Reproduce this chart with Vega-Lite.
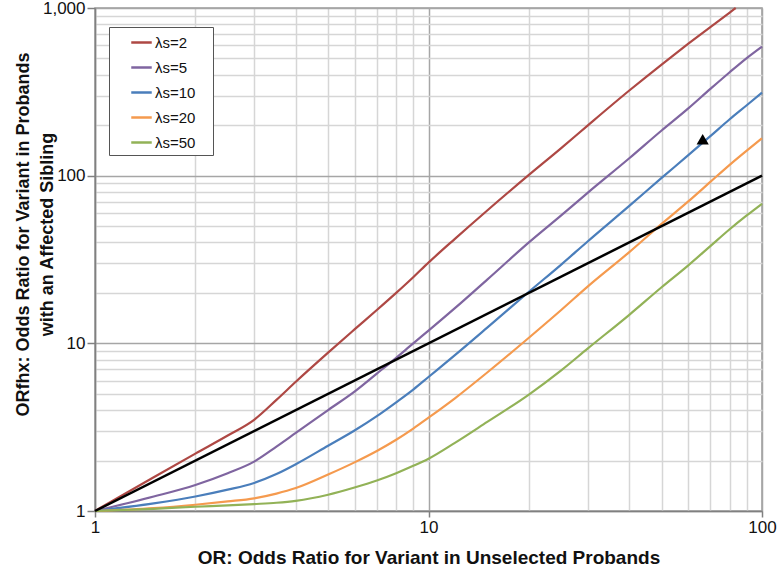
{
  "$schema": "https://vega.github.io/schema/vega-lite/v6.json",
  "autosize": "none",
  "width": 667,
  "height": 503,
  "padding": {"left": 95, "top": 8, "right": 17, "bottom": 55},
  "background": "white",
  "datasets": {
    "curves": [
      {"x": 1, "y": 1, "s": "λs=2"}, {"x": 1.5, "y": 1.59, "s": "λs=2"}, {"x": 2, "y": 2.2, "s": "λs=2"}, {"x": 2.5, "y": 2.82, "s": "λs=2"}, {"x": 3, "y": 3.5, "s": "λs=2"}, {"x": 3.5, "y": 4.6, "s": "λs=2"}, {"x": 4, "y": 5.9, "s": "λs=2"}, {"x": 5, "y": 8.8, "s": "λs=2"}, {"x": 6, "y": 12.1, "s": "λs=2"}, {"x": 7, "y": 15.8, "s": "λs=2"}, {"x": 8, "y": 20, "s": "λs=2"}, {"x": 9, "y": 24.8, "s": "λs=2"}, {"x": 10, "y": 30.3, "s": "λs=2"}, {"x": 12, "y": 42, "s": "λs=2"}, {"x": 15, "y": 62, "s": "λs=2"}, {"x": 20, "y": 101, "s": "λs=2"}, {"x": 25, "y": 146, "s": "λs=2"}, {"x": 30, "y": 199, "s": "λs=2"}, {"x": 40, "y": 322, "s": "λs=2"}, {"x": 50, "y": 460, "s": "λs=2"}, {"x": 60, "y": 610, "s": "λs=2"}, {"x": 70, "y": 770, "s": "λs=2"}, {"x": 80, "y": 940, "s": "λs=2"}, {"x": 83.4, "y": 1000, "s": "λs=2"},
      {"x": 1, "y": 1, "s": "λs=5"}, {"x": 1.5, "y": 1.22, "s": "λs=5"}, {"x": 2, "y": 1.43, "s": "λs=5"}, {"x": 2.5, "y": 1.68, "s": "λs=5"}, {"x": 3, "y": 1.97, "s": "λs=5"}, {"x": 3.5, "y": 2.42, "s": "λs=5"}, {"x": 4, "y": 2.92, "s": "λs=5"}, {"x": 5, "y": 4.0, "s": "λs=5"}, {"x": 6, "y": 5.15, "s": "λs=5"}, {"x": 7, "y": 6.6, "s": "λs=5"}, {"x": 8, "y": 8.2, "s": "λs=5"}, {"x": 9, "y": 10, "s": "λs=5"}, {"x": 10, "y": 11.9, "s": "λs=5"}, {"x": 12, "y": 16.2, "s": "λs=5"}, {"x": 15, "y": 24, "s": "λs=5"}, {"x": 20, "y": 40, "s": "λs=5"}, {"x": 25, "y": 58, "s": "λs=5"}, {"x": 30, "y": 79, "s": "λs=5"}, {"x": 40, "y": 127, "s": "λs=5"}, {"x": 50, "y": 186, "s": "λs=5"}, {"x": 60, "y": 251, "s": "λs=5"}, {"x": 70, "y": 329, "s": "λs=5"}, {"x": 80, "y": 414, "s": "λs=5"}, {"x": 90, "y": 503, "s": "λs=5"}, {"x": 100, "y": 589, "s": "λs=5"},
      {"x": 1, "y": 1, "s": "λs=10"}, {"x": 1.5, "y": 1.11, "s": "λs=10"}, {"x": 2, "y": 1.22, "s": "λs=10"}, {"x": 2.5, "y": 1.34, "s": "λs=10"}, {"x": 3, "y": 1.47, "s": "λs=10"}, {"x": 3.5, "y": 1.66, "s": "λs=10"}, {"x": 4, "y": 1.9, "s": "λs=10"}, {"x": 5, "y": 2.45, "s": "λs=10"}, {"x": 6, "y": 3.02, "s": "λs=10"}, {"x": 7, "y": 3.68, "s": "λs=10"}, {"x": 8, "y": 4.45, "s": "λs=10"}, {"x": 9, "y": 5.3, "s": "λs=10"}, {"x": 10, "y": 6.3, "s": "λs=10"}, {"x": 12, "y": 8.5, "s": "λs=10"}, {"x": 15, "y": 12.4, "s": "λs=10"}, {"x": 20, "y": 20.3, "s": "λs=10"}, {"x": 25, "y": 29.5, "s": "λs=10"}, {"x": 30, "y": 40.5, "s": "λs=10"}, {"x": 40, "y": 66, "s": "λs=10"}, {"x": 50, "y": 97, "s": "λs=10"}, {"x": 60, "y": 132, "s": "λs=10"}, {"x": 70, "y": 172, "s": "λs=10"}, {"x": 80, "y": 217, "s": "λs=10"}, {"x": 90, "y": 263, "s": "λs=10"}, {"x": 100, "y": 313, "s": "λs=10"},
      {"x": 1, "y": 1, "s": "λs=20"}, {"x": 1.5, "y": 1.04, "s": "λs=20"}, {"x": 2, "y": 1.09, "s": "λs=20"}, {"x": 2.5, "y": 1.14, "s": "λs=20"}, {"x": 3, "y": 1.19, "s": "λs=20"}, {"x": 3.5, "y": 1.27, "s": "λs=20"}, {"x": 4, "y": 1.37, "s": "λs=20"}, {"x": 5, "y": 1.65, "s": "λs=20"}, {"x": 6, "y": 1.95, "s": "λs=20"}, {"x": 7, "y": 2.28, "s": "λs=20"}, {"x": 8, "y": 2.66, "s": "λs=20"}, {"x": 9, "y": 3.1, "s": "λs=20"}, {"x": 10, "y": 3.6, "s": "λs=20"}, {"x": 12, "y": 4.7, "s": "λs=20"}, {"x": 15, "y": 6.7, "s": "λs=20"}, {"x": 20, "y": 10.8, "s": "λs=20"}, {"x": 25, "y": 15.8, "s": "λs=20"}, {"x": 30, "y": 21.8, "s": "λs=20"}, {"x": 40, "y": 35, "s": "λs=20"}, {"x": 50, "y": 51.6, "s": "λs=20"}, {"x": 60, "y": 70, "s": "λs=20"}, {"x": 70, "y": 91.8, "s": "λs=20"}, {"x": 80, "y": 116, "s": "λs=20"}, {"x": 90, "y": 141, "s": "λs=20"}, {"x": 100, "y": 167, "s": "λs=20"},
      {"x": 1, "y": 1, "s": "λs=50"}, {"x": 1.5, "y": 1.03, "s": "λs=50"}, {"x": 2, "y": 1.06, "s": "λs=50"}, {"x": 2.5, "y": 1.08, "s": "λs=50"}, {"x": 3, "y": 1.1, "s": "λs=50"}, {"x": 3.5, "y": 1.12, "s": "λs=50"}, {"x": 4, "y": 1.15, "s": "λs=50"}, {"x": 5, "y": 1.25, "s": "λs=50"}, {"x": 6, "y": 1.38, "s": "λs=50"}, {"x": 7, "y": 1.52, "s": "λs=50"}, {"x": 8, "y": 1.68, "s": "λs=50"}, {"x": 9, "y": 1.86, "s": "λs=50"}, {"x": 10, "y": 2.05, "s": "λs=50"}, {"x": 12, "y": 2.55, "s": "λs=50"}, {"x": 15, "y": 3.4, "s": "λs=50"}, {"x": 20, "y": 4.95, "s": "λs=50"}, {"x": 25, "y": 6.9, "s": "λs=50"}, {"x": 30, "y": 9.3, "s": "λs=50"}, {"x": 40, "y": 14.8, "s": "λs=50"}, {"x": 50, "y": 21.6, "s": "λs=50"}, {"x": 60, "y": 29.1, "s": "λs=50"}, {"x": 70, "y": 38, "s": "λs=50"}, {"x": 80, "y": 47.9, "s": "λs=50"}, {"x": 90, "y": 57.9, "s": "λs=50"}, {"x": 100, "y": 68, "s": "λs=50"}
    ],
    "diag": [{"x": 1, "y": 1}, {"x": 100, "y": 100}],
    "marker": [{"x": 66.4, "y": 165}]
  },
  "encoding": {
    "x": {
      "field": "x", "type": "quantitative",
      "scale": {"type": "log", "domain": [1, 100], "nice": false},
      "axis": {
        "title": "OR: Odds Ratio for Variant in Unselected Probands",
        "values": [1, 2, 3, 4, 5, 6, 7, 8, 9, 10, 20, 30, 40, 50, 60, 70, 80, 90, 100],
        "labelExpr": "indexof([1,10,100], datum.value) >= 0 ? format(datum.value, ',') : ''",
        "labelOverlap": false,
        "labelFlush": false,
        "gridColor": {"condition": {"test": "indexof([1,10,100], datum.value) >= 0", "value": "#a6a6a6"}, "value": "#d6d6d6"},
        "tickOpacity": {"condition": {"test": "indexof([1,10,100], datum.value) >= 0", "value": 1}, "value": 0},
        "tickSize": 6,
        "labelPadding": 2,
        "titleY": 52,
        "titleBaseline": "alphabetic",
        "titleFontSize": 19
      }
    },
    "y": {
      "field": "y", "type": "quantitative",
      "scale": {"type": "log", "domain": [1, 1000], "nice": false},
      "axis": {
        "title": ["ORfhx: Odds Ratio for Variant in Probands", "with an Affected Sibling"],
        "values": [1, 2, 3, 4, 5, 6, 7, 8, 9, 10, 20, 30, 40, 50, 60, 70, 80, 90, 100, 200, 300, 400, 500, 600, 700, 800, 900, 1000],
        "labelExpr": "indexof([1,10,100,1000], datum.value) >= 0 ? format(datum.value, ',') : ''",
        "labelOverlap": false,
        "labelFlush": false,
        "gridColor": {"condition": {"test": "indexof([1,10,100,1000], datum.value) >= 0", "value": "#a6a6a6"}, "value": "#d6d6d6"},
        "tickOpacity": {"condition": {"test": "indexof([1,10,100,1000], datum.value) >= 0", "value": 1}, "value": 0},
        "tickSize": 8,
        "labelPadding": 2,
        "titleAngle": -90,
        "titleX": -81,
        "titleY": 226,
        "titleAlign": "center",
        "titleBaseline": "top",
        "titleLineHeight": 24,
        "titleFontSize": 18
      }
    }
  },
  "layer": [
    {
      "data": {"name": "curves"},
      "mark": {"type": "line", "strokeWidth": 2.2, "interpolate": "monotone"},
      "encoding": {
        "color": {
          "field": "s", "type": "nominal",
          "scale": {
            "domain": ["λs=2", "λs=5", "λs=10", "λs=20", "λs=50"],
            "range": ["#AE4844", "#7F65A0", "#4A7EBB", "#F59A4E", "#92B257"]
          },
          "legend": {
            "title": " ",
            "titleOrient": "right",
            "titleFontSize": 2,
            "titlePadding": 14,
            "orient": "none",
            "legendX": 14,
            "legendY": 19,
            "symbolType": "stroke",
            "symbolSize": 420,
            "symbolStrokeWidth": 2.5,
            "labelFontSize": 15,
            "labelFont": "Liberation Sans",
            "labelColor": "#111",
            "labelOffset": 2,
            "rowPadding": 5,
            "padding": 4,
            "symbolOffset": 17,
            "strokeColor": "#555",
            "fillColor": "white"
          }
        }
      }
    },
    {
      "data": {"name": "diag"},
      "mark": {"type": "line", "color": "black", "strokeWidth": 2.5},
      "encoding": {}
    },
    {
      "data": {"name": "marker"},
      "mark": {"type": "point", "shape": "triangle-up", "filled": true, "color": "black", "size": 150, "opacity": 1},
      "encoding": {}
    }
  ],
  "config": {
    "font": "Liberation Sans",
    "view": {"stroke": "#9a9a9a", "strokeWidth": 1.5},
    "axis": {
      "labelFont": "Liberation Sans",
      "labelFontSize": 17,
      "labelColor": "#111",
      "titleFont": "Liberation Sans",
      "titleFontWeight": "bold",
      "titleColor": "#111",
      "domainColor": "#808080",
      "domainWidth": 1.5,
      "tickColor": "#808080",
      "tickWidth": 1.5,
      "grid": true,
      "gridWidth": 1.5
    }
  }
}
